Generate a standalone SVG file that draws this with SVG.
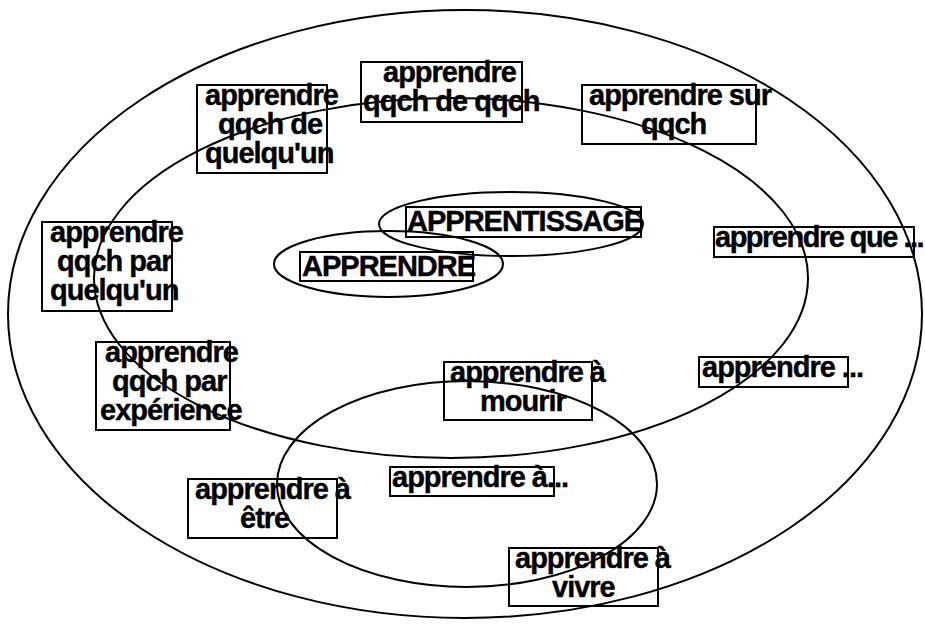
<svg xmlns="http://www.w3.org/2000/svg" width="925" height="625" viewBox="0 0 925 625">
<style>
.e{fill:none;stroke:#000;stroke-width:2}
.b{fill:none;stroke:#000;stroke-width:2}
text{font-family:"Liberation Sans",Arial,sans-serif;font-weight:bold;font-size:29px;letter-spacing:-1px;fill:#000;stroke:#000;stroke-width:0.4}
.t{letter-spacing:-1.5px}
</style>
<rect width="925" height="625" fill="#fff"/>
<g id="connectors">
<ellipse class="e" cx="465" cy="314" rx="457" ry="304"/>
<ellipse class="e" cx="451" cy="278" rx="357" ry="180"/>
<ellipse class="e" cx="467" cy="484" rx="190" ry="103"/>
<ellipse class="e" cx="511" cy="224" rx="132" ry="32"/>
<ellipse class="e" cx="388.5" cy="264" rx="114.5" ry="33"/>
</g>
<g id="n1"><rect class="b" x="197" y="85" width="130" height="88"/><text x="205" y="105">apprendre</text><text x="218" y="134">qqch de</text><text x="205" y="163">quelqu'un</text></g>
<g id="n2"><rect class="b" x="361" y="62" width="161" height="60"/><text x="383" y="82">apprendre</text><text x="363" y="111">qqch de qqch</text></g>
<g id="n3"><rect class="b" x="582" y="85" width="174" height="59"/><text x="589" y="105">apprendre sur</text><text x="641" y="134">qqch</text></g>
<g id="n4"><rect class="b" x="406" y="207" width="235" height="30"/><text x="407" y="231">APPRENTISSAGE</text></g>
<g id="n5"><rect class="b" x="714" y="227" width="200" height="30"/><text class="t" x="715" y="247">apprendre que ...</text></g>
<g id="n6"><rect class="b" x="300" y="252" width="173" height="29"/><text x="302" y="276">APPRENDRE</text></g>
<g id="n7"><rect class="b" x="42" y="222" width="130" height="89"/><text x="50" y="242">apprendre</text><text x="57" y="271">qqch par</text><text x="50" y="300">quelqu'un</text></g>
<g id="n8"><rect class="b" x="96" y="342" width="134" height="88"/><text x="105" y="362">apprendre</text><text x="112" y="391">qqch par</text><text x="100" y="420">expérience</text></g>
<g id="n9"><rect class="b" x="444" y="362" width="148" height="58"/><text x="450" y="382">apprendre à</text><text x="480" y="411">mourir</text></g>
<g id="n10"><rect class="b" x="699" y="357" width="149" height="30"/><text x="702" y="377">apprendre ...</text></g>
<g id="n11"><rect class="b" x="390" y="467" width="164" height="29"/><text x="392" y="487">apprendre à...</text></g>
<g id="n12"><rect class="b" x="188" y="479" width="149" height="59"/><text x="195" y="499">apprendre à</text><text x="240" y="528">être</text></g>
<g id="n13"><rect class="b" x="509" y="548" width="149" height="58"/><text x="515" y="568">apprendre à</text><text x="552" y="597">vivre</text></g>
</svg>
